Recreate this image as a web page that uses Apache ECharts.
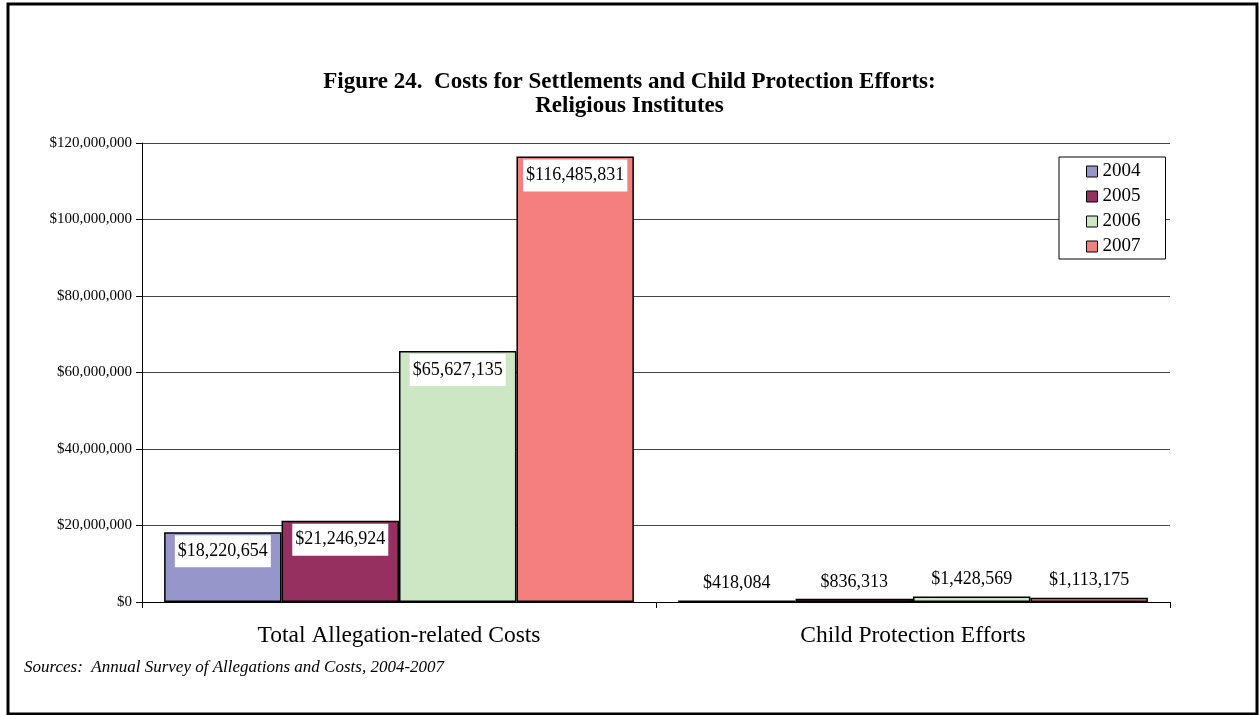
<!DOCTYPE html>
<html>
<head>
<meta charset="utf-8">
<script src="https://cdn.jsdelivr.net/npm/echarts@6/dist/echarts.min.js"></script>
<style>
html,body{margin:0;padding:0;background:#fff;}
#chart{width:1259px;height:715px;}
</style>
</head>
<body>
<div id="chart"></div>
<script>
const categories = ['Total Allegation-related Costs', 'Child Protection Efforts'];
const seriesNames = ['2004', '2005', '2006', '2007'];
const values2004 = [18220654, 418084];
const values2005 = [21246924, 836313];
const values2006 = [65627135, 1428569];
const values2007 = [116485831, 1113175];
const yTicks = [0, 20000000, 40000000, 60000000, 80000000, 100000000, 120000000];
const titleLines = ['Figure 24.  Costs for Settlements and Child Protection Efforts:', 'Religious Institutes'];
const sourceText = 'Sources:  Annual Survey of Allegations and Costs, 2004-2007';

const colors = ['#9696CA', '#953060', '#CDE6C4', '#F47F7F'];
const allValues = [values2004, values2005, values2006, values2007];
const FONT = '"Liberation Serif", "Times New Roman", serif';

function money(v) {
  return '$' + Math.round(v).toString().replace(/\B(?=(\d{3})+(?!\d))/g, ',');
}

const labelBase = {
  show: true,
  fontFamily: FONT,
  fontSize: 18,
  lineHeight: 18,
  color: '#000',
  backgroundColor: '#fff',
  padding: [7, 3, 7, 3],
  formatter: p => money(p.value)
};

const series = seriesNames.map((name, i) => ({
  name: name,
  type: 'bar',
  barGap: '0%',
  barCategoryGap: '8.6%',
  itemStyle: { color: colors[i], borderColor: '#000', borderWidth: 1.5 },
  data: allValues[i].map((v, j) => ({
    value: v,
    label: j === 0
      ? Object.assign({}, labelBase, { position: 'insideTop', distance: 3 })
      : Object.assign({}, labelBase, { position: 'top', distance: 1, backgroundColor: 'transparent' })
  })),
  label: labelBase
}));

const titleStyle = { fontFamily: FONT, fontSize: 23, fontWeight: 'bold', lineHeight: 24, color: '#000' };

const chart = echarts.init(document.getElementById('chart'), null, { renderer: 'canvas' });
chart.setOption({
  animation: false,
  backgroundColor: '#fff',
  title: titleLines.map((t, i) => ({
    text: t,
    left: 'center',
    top: 70 + i * 24,
    padding: 0,
    textStyle: titleStyle
  })),
  legend: {
    orient: 'vertical',
    left: 1059,
    top: 157,
    data: seriesNames,
    icon: 'rect',
    itemWidth: 11,
    itemHeight: 11,
    itemGap: 6,
    padding: [5, 25, 3, 27],
    borderColor: '#000',
    borderWidth: 1,
    backgroundColor: '#fff',
    textStyle: { fontFamily: FONT, fontSize: 19, lineHeight: 19, color: '#000' },
    itemStyle: { borderColor: '#000', borderWidth: 1 }
  },
  grid: { left: 142, right: 89, top: 143, bottom: 113, containLabel: false },
  xAxis: {
    type: 'category',
    data: categories,
    axisLine: { lineStyle: { color: '#000', width: 1 } },
    axisTick: { show: true, length: 6, lineStyle: { color: '#000' }, interval: 0 },
    axisLabel: { fontFamily: FONT, fontSize: 23.5, color: '#000', margin: 22 }
  },
  yAxis: {
    type: 'value',
    min: yTicks[0],
    max: yTicks[yTicks.length - 1],
    interval: yTicks[1] - yTicks[0],
    axisLine: { show: true, lineStyle: { color: '#000', width: 1 } },
    axisTick: { show: true, length: 6, lineStyle: { color: '#000' } },
    axisLabel: { fontFamily: FONT, fontSize: 15, color: '#000', margin: 10, formatter: v => money(v) },
    splitLine: { show: true, lineStyle: { color: '#444', width: 1 } }
  },
  series: series,
  graphic: [
    {
      type: 'rect',
      shape: { x: 8, y: 4, width: 1249, height: 710 },
      style: { fill: 'none', stroke: '#000', lineWidth: 3 },
      silent: true
    },
    {
      type: 'text',
      left: 24,
      top: 659,
      style: { text: sourceText, font: 'italic 17px ' + FONT, fill: '#000' },
      silent: true
    }
  ]
});
</script>
</body>
</html>
